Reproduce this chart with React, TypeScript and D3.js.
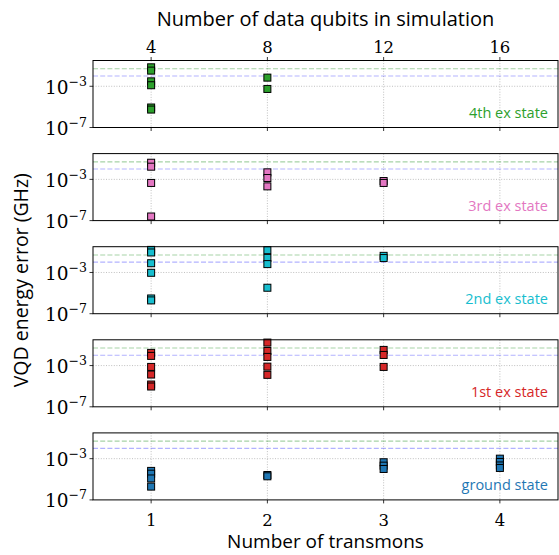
import React from "react";
import * as d3 from "d3";

// transmons on the bottom axis, data qubits = 4 x transmons on the top axis
const transmonTicks = [1, 2, 3, 4];
const qubitTicks = [4, 8, 12, 16];
const yTicks = [1e-3, 1e-7];

// thresholds drawn as dashed lines
const greenLevel = 0.05;
const blueLevel = 0.01;

// errors (GHz) read per state, as [transmons, error]
const fourthEx: [number, number][] = [
  [1, 0.069], [1, 0.033], [1, 0.003], [1, 0.00126], [1, 8.7e-6], [1, 5.5e-6],
  [2, 0.0069], [2, 0.00055],
];
const thirdEx: [number, number][] = [
  [1, 0.041], [1, 0.017], [1, 0.00045], [1, 2.5e-7],
  [2, 0.0048], [2, 0.00135], [2, 0.00021],
  [3, 0.00069], [3, 0.00045],
];
const secondEx: [number, number][] = [
  [1, 0.155], [1, 0.087], [1, 0.0079], [1, 0.00093], [1, 3.0e-6], [1, 1.95e-6],
  [2, 0.145], [2, 0.026], [2, 0.0065], [2, 3.3e-5],
  [3, 0.041], [3, 0.025],
];
const firstEx: [number, number][] = [
  [1, 0.017], [1, 0.0087], [1, 0.00074], [1, 0.000135], [1, 1.45e-5], [1, 9.3e-6],
  [2, 0.17], [2, 0.026], [2, 0.0069], [2, 0.00079], [2, 0.000126],
  [3, 0.033], [3, 0.0107], [3, 0.00074],
];
const groundState: [number, number][] = [
  [1, 6.5e-5], [1, 3.5e-5], [1, 1.2e-5], [1, 1.95e-6],
  [2, 2.6e-5], [2, 1.95e-5],
  [3, 0.00045], [3, 0.00021], [3, 0.0001],
  [4, 0.001], [4, 0.00048], [4, 0.00022], [4, 0.000126],
];

const panels = [
  { label: "4th ex state", color: "#2ca02c", data: fourthEx },
  { label: "3rd ex state", color: "#e377c2", data: thirdEx },
  { label: "2nd ex state", color: "#17becf", data: secondEx },
  { label: "1st ex state", color: "#d62728", data: firstEx },
  { label: "ground state", color: "#1f77b4", data: groundState },
];

const W = 559;
const H = 555;
const left = 93;
const right = 558;
const firstTop = 60.5;
const panelH = 67;
const step = 93.1;
const serif = "'DejaVu Serif', 'Liberation Serif', serif";
const sans = "'Open Sans', 'DejaVu Sans', sans-serif";

function Pow({ exp }: { exp: number }) {
  return (
    <>
      10<tspan dy={-8} fontSize={12.5}>{"\u2212" + Math.abs(exp)}</tspan>
    </>
  );
}

function Panel({ idx, label, color, data }: { idx: number; label: string; color: string; data: [number, number][] }) {
  const top = firstTop + idx * step;
  const x = d3.scaleLinear().domain([0.5, 4.5]).range([left, right]);
  const y = d3.scaleLog().domain([1e-7, Math.pow(10, -0.5)]).range([top + panelH, top]);
  const m = 7;
  return (
    <g>
      {transmonTicks.map((t) => (
        <line key={"gx" + t} x1={x(t)} x2={x(t)} y1={top} y2={top + panelH}
          stroke="#b0b0b0" strokeWidth={0.8} strokeDasharray="1,1.6" />
      ))}
      <line x1={left} x2={right} y1={y(1e-3)} y2={y(1e-3)} stroke="#b0b0b0" strokeWidth={0.8} strokeDasharray="1,1.6" />
      <line x1={left} x2={right} y1={y(greenLevel)} y2={y(greenLevel)} stroke="green" strokeOpacity={0.35} strokeWidth={1.1} strokeDasharray="5,2.2" />
      <line x1={left} x2={right} y1={y(blueLevel)} y2={y(blueLevel)} stroke="blue" strokeOpacity={0.3} strokeWidth={1.1} strokeDasharray="5,2.2" />
      {data.map(([t, v], i) => (
        <rect key={i} x={x(t) - m / 2} y={y(v) - m / 2} width={m} height={m}
          fill={color} stroke="#000" strokeWidth={1} />
      ))}
      <rect x={left} y={top} width={right - left} height={panelH} fill="none" stroke="#000" strokeWidth={1} />
      {transmonTicks.map((t) => (
        <line key={"tx" + t} x1={x(t)} x2={x(t)} y1={top + panelH} y2={top + panelH + 3.5} stroke="#000" strokeWidth={0.8} />
      ))}
      {yTicks.map((v) => (
        <g key={"ty" + v}>
          <line x1={left - 3.5} x2={left} y1={y(v)} y2={y(v)} stroke="#000" strokeWidth={0.8} />
          <text x={left - 6} y={y(v) + 7.5} textAnchor="end" fontFamily={serif} fontSize={18.5}>
            <Pow exp={Math.round(Math.log10(v))} />
          </text>
        </g>
      ))}
      <text x={548} y={top + panelH - 10} textAnchor="end" fontFamily={sans} fontSize={14.5} fill={color}>
        {label}
      </text>
    </g>
  );
}

export default function App() {
  const x = d3.scaleLinear().domain([0.5, 4.5]).range([left, right]);
  const xTop = d3.scaleLinear().domain([2, 18]).range([left, right]);
  const lastBottom = firstTop + 4 * step + panelH;
  return (
    <svg width={W} height={H} style={{ display: "block", position: "absolute", left: 0, top: 0 }}>
      <rect width={W} height={H} fill="#fff" />
      <text x={(left + right) / 2} y={26} textAnchor="middle" fontFamily={sans} fontSize={20}>
        Number of data qubits in simulation
      </text>
      {qubitTicks.map((q) => (
        <g key={q}>
          <line x1={xTop(q)} x2={xTop(q)} y1={firstTop - 3.5} y2={firstTop} stroke="#000" strokeWidth={0.8} />
          <text x={xTop(q)} y={firstTop - 8} textAnchor="middle" fontFamily={serif} fontSize={16.5}>{q}</text>
        </g>
      ))}
      {panels.map((p, i) => (
        <Panel key={p.label} idx={i} label={p.label} color={p.color} data={p.data} />
      ))}
      {transmonTicks.map((t) => (
        <text key={t} x={x(t)} y={lastBottom + 26} textAnchor="middle" fontFamily={serif} fontSize={16.5}>{t}</text>
      ))}
      <text x={(left + right) / 2} y={548} textAnchor="middle" fontFamily={sans} fontSize={19}>
        Number of transmons
      </text>
      <text transform={`translate(28,${(firstTop + lastBottom) / 2}) rotate(-90)`} textAnchor="middle" fontFamily={sans} fontSize={19.5}>
        VQD energy error (GHz)
      </text>
    </svg>
  );
}
